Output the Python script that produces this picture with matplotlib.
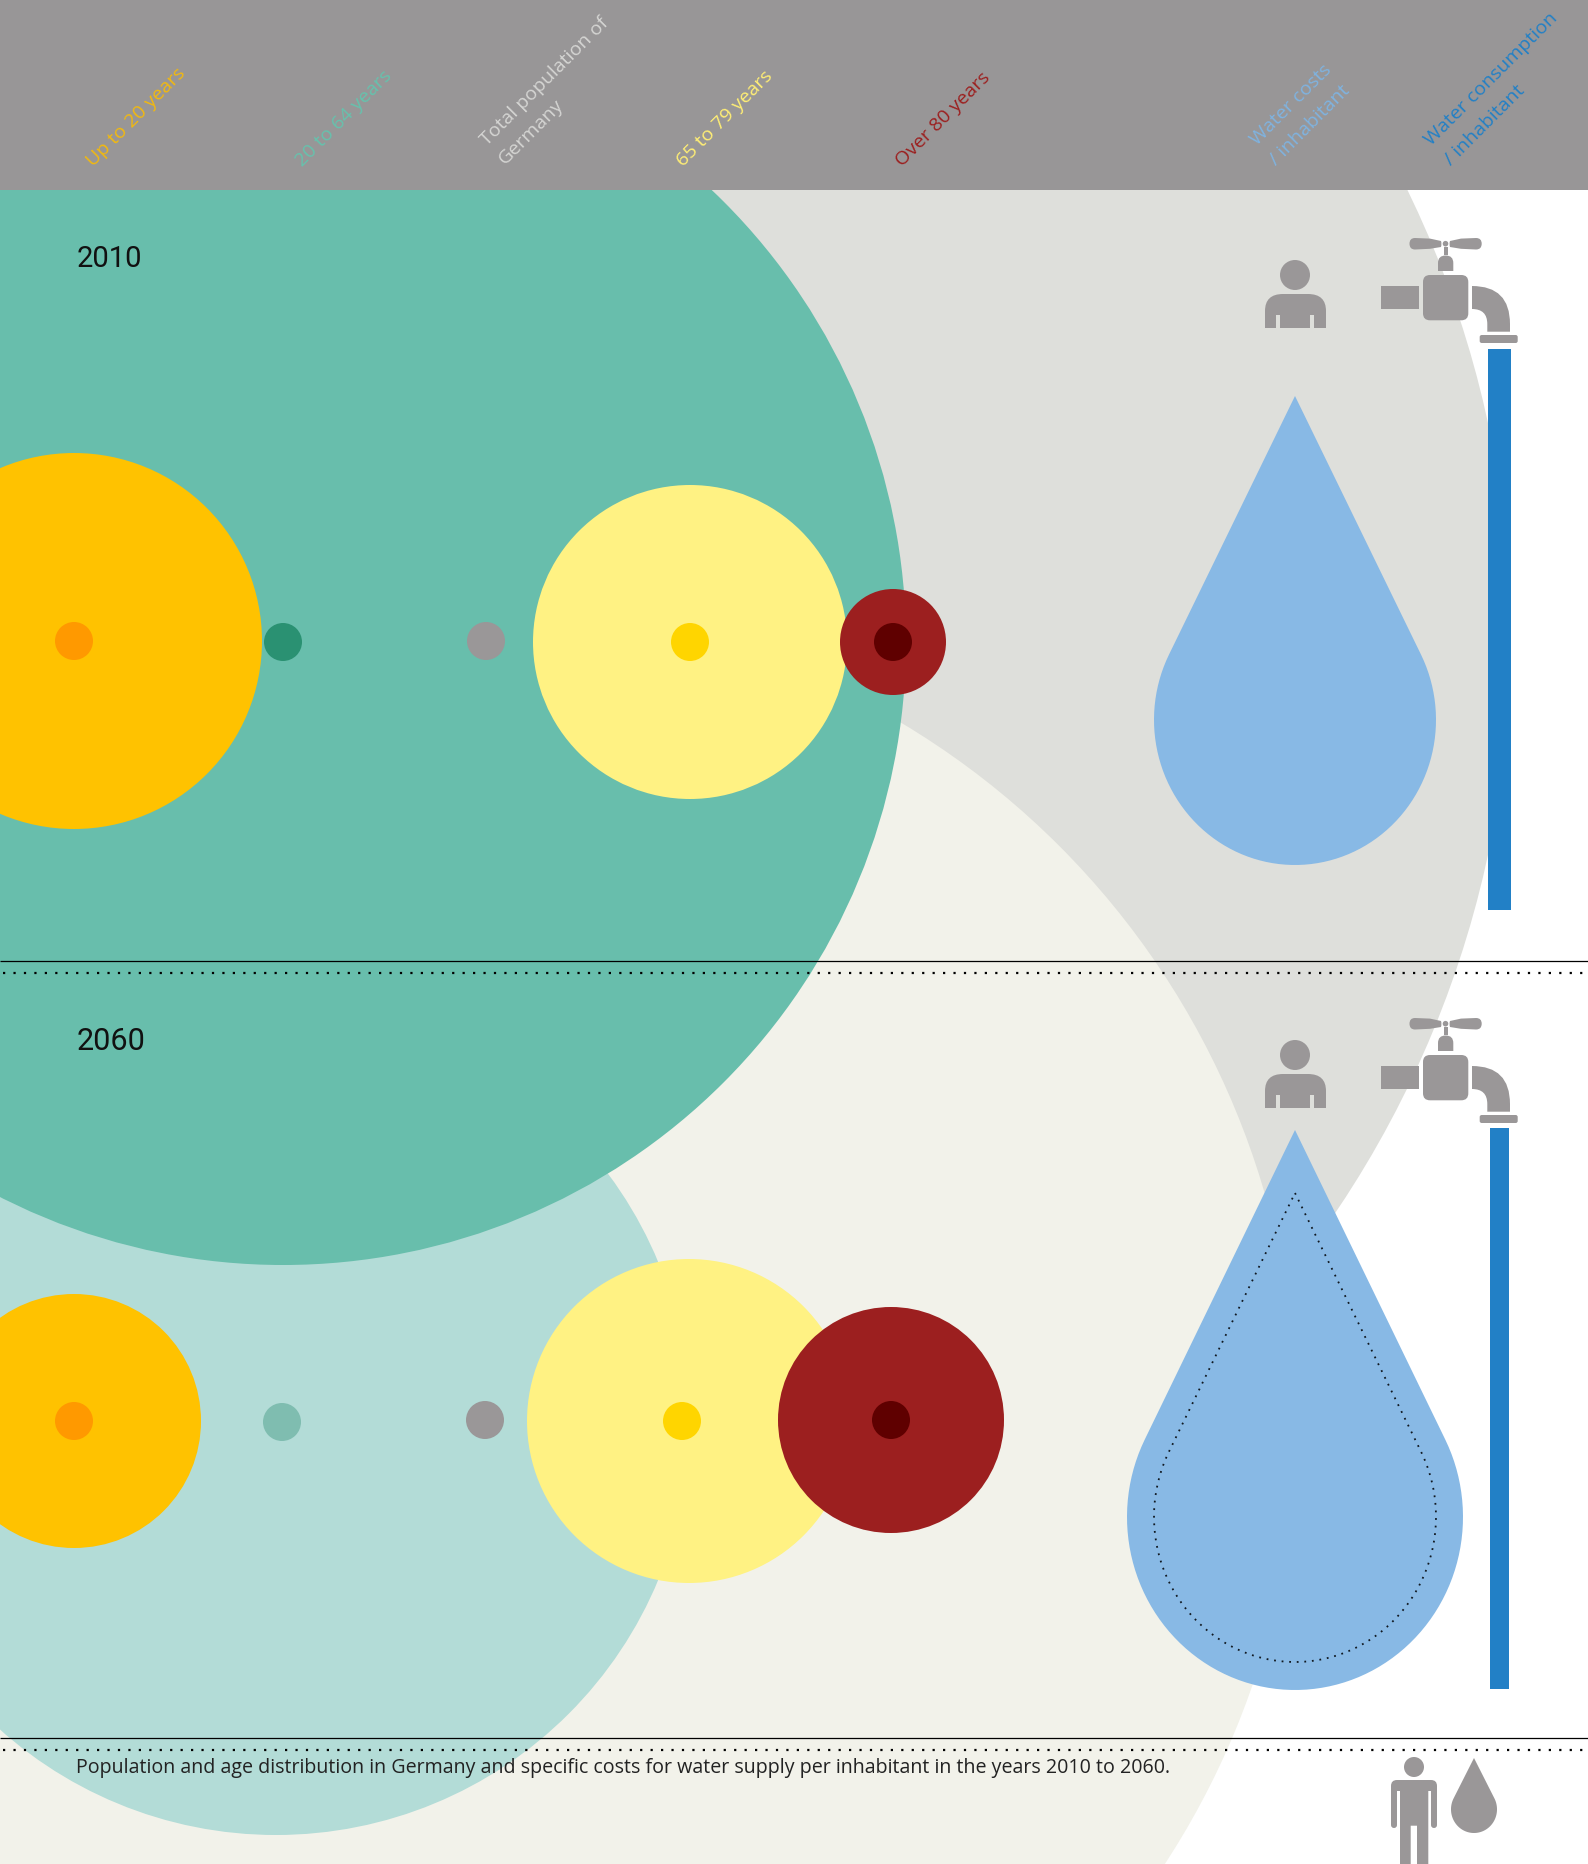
"""
Population and water supply infographic, 2010 vs 2060.
The axes run in reference pixels, so sizes below are read straight off the picture.
"""

import numpy as np
import matplotlib
matplotlib.use('Agg')
import matplotlib.pyplot as plt
from matplotlib.patches import Circle, PathPatch, Rectangle, FancyBboxPatch
from matplotlib.path import Path

W, H = 1588, 1865
TEXT_FONT = ['Open Sans', 'DejaVu Sans']
YEAR_FONT = ['Roboto', 'DejaVu Sans']

# --- data: circle radii per age group ---
groups = ['Up to 20 years', '20 to 64 years', 'Total population', '65 to 79 years', 'Over 80 years']
radius_2010 = [188, 623, 1025, 157, 53]
radius_2060 = [127, 414, 812, 162, 113]
water_cost_2010 = [141, 469]     # half width, height of the drop
water_cost_2060 = [168, 560]
water_use_2010 = 561             # bar length
water_use_2060 = 561

# --- layout ---
centre_x_2010 = [74, 283, 486, 690, 893]
centre_y_2010 = [642, 643, 640, 643, 643]
centre_x_2060 = [74, 276, 485, 689, 891]
centre_y_2060 = [1422, 1422, 1421, 1422, 1421]
dot_x_2010 = [74, 283, 486, 690, 893]
dot_y_2010 = [642, 643, 642, 643, 643]
dot_x_2060 = [74, 282, 485, 682, 891]
dot_y_2060 = [1422, 1423, 1421, 1422, 1421]

# --- colours ---
BAND = '#989697'
ICON = '#9A9798'
DROP = '#88B9E5'
BAR = '#2280C6'
fill_2010 = ['#FFC200', '#68BEAC', '#DEDFDB', '#FFF283', '#9C1F1F']
fill_2060 = ['#FFC200', '#B3DCD7', '#F2F2EA', '#FFF283', '#9C1F1F']
dot_2010 = ['#FF9900', '#2A9172', '#9A9798', '#FFD500', '#5F0000']
dot_2060 = ['#FF9900', '#7FBDB0', '#9A9798', '#FFD500', '#5F0000']

labels = [
    ('Up to 20 years', 93, 167, '#F2B90F'),
    ('20 to 64 years', 302, 167, '#66C2AD'),
    ('Total population of', 487, 146, '#D5D5D3'),
    ('Germany', 505, 165, '#D5D5D3'),
    ('65 to 79 years', 683, 167, '#FFEE75'),
    ('Over 80 years', 902, 167, '#9C1F1F'),
    ('Water costs', 1257, 146, '#7FB3E0'),
    ('/ inhabitant', 1276, 166, '#7FB3E0'),
    ('Water consumption', 1431, 146, '#2280C6'),
    ('/ inhabitant', 1451, 166, '#2280C6'),
]
CAPTION = ('Population and age distribution in Germany and specific costs for '
           'water supply per inhabitant in the years 2010 to 2060.')


def drop_path(cx, apex_y, half_w, height):
    # straight sides running tangent into a slightly tall belly
    stretch = 1.03
    r = half_w
    cy = apex_y + height - r * stretch
    a = np.arcsin(r * stretch / (cy - apex_y))
    t = np.linspace(-a, np.pi + a, 90)
    xs = cx + r * np.cos(t)
    ys = cy + r * stretch * np.sin(t)
    verts = np.vstack([[cx, apex_y], np.column_stack([xs, ys]), [cx, apex_y]])
    return Path(verts, closed=True)


def draw_person(ax, dy):
    ax.add_patch(Circle((1295, 276 + dy), 15, fc=ICON, ec='none', zorder=20))
    M, L, C = Path.MOVETO, Path.LINETO, Path.CURVE3
    pts = [
        ((1265, 329), M), ((1265, 312), L), ((1265, 295), C), ((1283, 295), C),
        ((1308, 295), L), ((1326, 295), C), ((1326, 312), C), ((1326, 329), L),
        ((1314, 329), L), ((1314, 316), L), ((1310, 316), L), ((1310, 329), L),
        ((1280, 329), L), ((1280, 316), L), ((1276, 316), L), ((1276, 329), L),
        ((1265, 329), L),
    ]
    verts = [(p[0], p[1] + dy) for p, _ in pts]
    ax.add_patch(PathPatch(Path(verts, [c for _, c in pts]), fc=ICON, ec='none', zorder=20))


def draw_tap(ax, dy):
    M, L, C = Path.MOVETO, Path.LINETO, Path.CURVE3
    def add(pts):
        verts = [(p[0], p[1] + dy) for p, _ in pts]
        ax.add_patch(PathPatch(Path(verts, [c for _, c in pts]), fc=ICON, ec='none', zorder=20))

    # handle blades
    add([((1415, 239), M), ((1409.5, 239), C), ((1409.5, 244.7), C), ((1409.5, 250.5), C), ((1415, 250.5), C),
         ((1430, 249.8), L), ((1441, 248), L), ((1442, 244.7), C), ((1441, 242), C), ((1430, 239.6), L), ((1415, 239), L)])
    add([((1476, 239), M), ((1481.7, 239), C), ((1481.7, 244.7), C), ((1481.7, 250.5), C), ((1476, 250.5), C),
         ((1461, 249.8), L), ((1450, 248), L), ((1449, 244.7), C), ((1450, 242), C), ((1461, 239.6), L), ((1476, 239), L)])
    ax.add_patch(Circle((1445.5, 244.7 + dy), 2.8, fc=ICON, ec='none', zorder=20))
    ax.add_patch(Rectangle((1444, 247.5 + dy), 3.7, 8.5, fc=ICON, ec='none', zorder=20))
    # bonnet
    add([((1438, 272), M), ((1438, 264), L), ((1438, 256.5), C), ((1445.7, 256.5), C),
         ((1453.3, 256.5), C), ((1453.3, 264), C), ((1453.3, 272), L), ((1438, 272), L)])
    # body and inlet
    ax.add_patch(FancyBboxPatch((1429, 282 + dy), 33.3, 33.3, boxstyle='round,pad=6,rounding_size=7',
                                fc=ICON, ec='none', zorder=20))
    ax.add_patch(Rectangle((1381, 287 + dy), 38, 23, fc=ICON, ec='none', zorder=20))
    # spout
    add([((1472, 287), M), ((1510, 287), C), ((1510, 325), C), ((1510, 332.7), L),
         ((1487.3, 332.7), L), ((1487.3, 325), L), ((1487.3, 310), C), ((1472, 310), C), ((1472, 287), L)])
    # nozzle rim
    ax.add_patch(FancyBboxPatch((1481.7, 338 + dy), 34, 4, boxstyle='round,pad=2,rounding_size=2',
                                fc=ICON, ec='none', zorder=20))


def draw_small_person(ax):
    ax.add_patch(Circle((1414, 1768), 10, fc=ICON, ec='none', zorder=20))
    M, L, C = Path.MOVETO, Path.LINETO, Path.CURVE3
    pts = [
        ((1391, 1787), M), ((1391, 1781), C), ((1397, 1781), C), ((1431, 1781), L),
        ((1437, 1781), C), ((1437, 1787), C), ((1437, 1826), L), ((1437, 1829), C),
        ((1434, 1829), C), ((1431, 1829), C), ((1431, 1826), C), ((1431, 1792), L),
        ((1428.3, 1792), L), ((1428.3, 1865), L), ((1417, 1865), L), ((1417, 1826.7), L),
        ((1410.7, 1826.7), L), ((1410.7, 1865), L), ((1400, 1865), L), ((1400, 1792), L),
        ((1397, 1792), L), ((1397, 1826), L), ((1397, 1829), C), ((1394, 1829), C),
        ((1391, 1829), C), ((1391, 1826), C), ((1391, 1787), L),
    ]
    ax.add_patch(PathPatch(Path([p for p, _ in pts], [c for _, c in pts]),
                           fc=ICON, ec='none', zorder=20))


# ============================================================
# figure
# ============================================================
fig = plt.figure(figsize=(W / 100, H / 100), dpi=100)
ax = fig.add_axes([0, 0, 1, 1])
ax.set_xlim(0, W)
ax.set_ylim(H, 0)
ax.axis('off')

# big background circles: 2010 total, then 2060 total, then 2060 working age, then 2010 working age
ax.add_patch(Circle((centre_x_2010[2], centre_y_2010[2]), radius_2010[2], fc=fill_2010[2], ec='none', zorder=1))
ax.add_patch(Circle((centre_x_2060[2], centre_y_2060[2]), radius_2060[2], fc=fill_2060[2], ec='none', zorder=2))
ax.add_patch(Circle((centre_x_2060[1], centre_y_2060[1]), radius_2060[1], fc=fill_2060[1], ec='none', zorder=3))
ax.add_patch(Circle((centre_x_2010[1], centre_y_2010[1]), radius_2010[1], fc=fill_2010[1], ec='none', zorder=4))

# remaining age groups and the small centre dots
for i in [0, 3, 4]:
    ax.add_patch(Circle((centre_x_2010[i], centre_y_2010[i]), radius_2010[i], fc=fill_2010[i], ec='none', zorder=6))
    ax.add_patch(Circle((centre_x_2060[i], centre_y_2060[i]), radius_2060[i], fc=fill_2060[i], ec='none', zorder=6))
for i in range(len(groups)):
    ax.add_patch(Circle((dot_x_2010[i], dot_y_2010[i]), 19, fc=dot_2010[i], ec='none', zorder=8))
    ax.add_patch(Circle((dot_x_2060[i], dot_y_2060[i]), 19, fc=dot_2060[i], ec='none', zorder=8))

# water cost drops
ax.add_patch(PathPatch(drop_path(1295, 397, *water_cost_2010), fc=DROP, ec='none', zorder=10))
ax.add_patch(PathPatch(drop_path(1295, 1131, *water_cost_2060), fc=DROP, ec='none', zorder=10))
ax.add_patch(PathPatch(drop_path(1295, 1194, *water_cost_2010), fc='none', ec='#101820', lw=1.3,
                       ls=(0, (1, 3.2)), zorder=11))

# water consumption bars
ax.add_patch(Rectangle((1488, 350), 23, water_use_2010, fc=BAR, ec='none', zorder=10))
ax.add_patch(Rectangle((1490, 1129), 19, water_use_2060, fc=BAR, ec='none', zorder=10))

# icons
for dy in [0, 780]:
    draw_person(ax, dy)
    draw_tap(ax, dy)
draw_small_person(ax)
ax.add_patch(PathPatch(drop_path(1474, 1759, 23, 75), fc=ICON, ec='none', zorder=20))

# separators
for y in [962, 1739]:
    ax.plot([0, W], [y, y], color='black', lw=0.9, zorder=15, solid_capstyle='butt')
for y in [974, 1751]:
    ax.plot([3, W], [y, y], color='black', lw=1.6, ls=(0, (1, 3.7)), zorder=15)

# header band
ax.add_patch(Rectangle((0, 0), W, 191, fc=BAND, ec='none', zorder=25))
for txt, x, y, col in labels:
    ax.text(x, y, txt, color=col, fontsize=14, family=TEXT_FONT, rotation=45,
            rotation_mode='anchor', ha='left', va='baseline', zorder=26)

# years and caption
ax.text(77, 267, '2010', color='#111111', fontsize=21, family=YEAR_FONT, ha='left', va='baseline', zorder=30)
ax.text(77, 1050, '2060', color='#111111', fontsize=22, family=YEAR_FONT, ha='left', va='baseline', zorder=30)
ax.text(76, 1773.5, CAPTION, color='#222222', fontsize=14.15, family=TEXT_FONT, ha='left', va='baseline', zorder=30)

fig.savefig('out.png', dpi=100)
